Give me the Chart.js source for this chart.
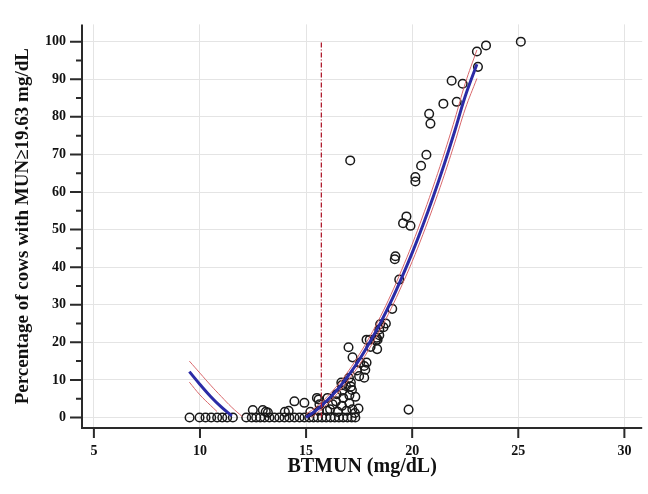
<!DOCTYPE html>
<html>
<head>
<meta charset="utf-8">
<script src="https://cdn.jsdelivr.net/npm/chart.js@4.4.0/dist/chart.umd.min.js"></script>
<style>
  html, body { margin: 0; padding: 0; background: #fff; }
  #wrap { width: 648px; height: 494px; }
</style>
</head>
<body>
<div id="wrap"><canvas id="grafica"></canvas></div>
<script>
// Datos observados (BTMUN, porcentaje de vacas)
const btmun = [
  9.51, 9.98, 10.26, 10.53, 10.81, 11.05, 11.28, 11.55,
  12.18, 12.44, 12.65, 12.84, 13.04, 13.27, 13.51, 13.74, 13.98, 14.21, 14.45, 14.69, 14.92,
  15.15, 15.35, 15.55, 15.75, 15.95, 16.15, 16.35, 16.55, 16.75, 16.95, 17.15, 17.32,
  12.49, 12.96, 13.1, 13.2, 14.0, 14.18, 15.2, 15.6, 16.0, 16.5, 16.9, 17.3,
  14.45, 14.92, 15.51, 15.63, 16.01, 16.25, 16.13, 16.41, 16.44, 16.69, 16.75, 17.04, 17.04, 17.18, 17.32, 17.47, 15.59,
  16.7, 16.88, 17.16, 16.66, 17.11, 17.02, 17.5, 17.74, 17.4, 17.79, 17.74, 17.55, 17.85, 16.69, 17.11,
  17.19, 17.0, 18.04, 18.35, 17.85, 18.37, 18.29, 18.45, 18.45, 18.65, 18.76, 18.49, 18.0, 18.32,
  19.06, 19.39, 19.18, 19.21, 19.57, 19.73, 19.92, 20.15, 20.15, 20.42, 20.67, 17.08,
  20.8, 20.86, 21.47, 22.1, 21.86, 22.38, 23.05, 23.1, 23.48, 25.12, 19.83
];
const porcentaje = [
  0, 0, 0, 0, 0, 0, 0, 0,
  0, 0, 0, 0, 0, 0, 0, 0, 0, 0, 0, 0, 0,
  0, 0, 0, 0, 0, 0, 0, 0, 0, 0, 0, 0,
  2, 2, 1.5, 1.3, 1.5, 1.8, 1.5, 1.8, 1.8, 1.5, 1.8, 1.2,
  4.3, 3.9, 5.2, 3.5, 5.2, 3.5, 2.2, 4.3, 6.2, 3.1, 5.2, 3.8, 5.9, 2.2, 5.5, 2.4, 4.8,
  7.1, 8.4, 7.3, 9.3, 9.3, 10.5, 11, 10.6, 12.5, 12.7, 13.7, 14.6, 14.6, 8.6, 8.2,
  16, 18.7, 18.8, 18.2, 20.7, 20.7, 20.5, 21.9, 23.4, 24, 25, 24.8, 20.7, 21.2,
  28.9, 36.7, 42.1, 42.9, 51.7, 53.5, 51, 62.8, 64, 67, 69.9, 68.4,
  80.8, 78.2, 83.5, 84, 89.6, 88.8, 97.4, 93.3, 99, 100, 2.1
];

// Curva ajustada (tramo izquierdo) y su intervalo
const izqX = [9.5, 10, 10.5, 11, 11.5];
const izqY = [12.2, 8.8, 5.6, 2.8, 0.4];
const izqSupX = [9.5, 10, 10.5, 11, 11.5, 12];
const izqSupY = [15, 11.8, 8.6, 5.6, 2.7, 0.2];
const izqInfX = [9.5, 10, 10.5, 10.8];
const izqInfY = [9.4, 6.0, 3.2, 1.6];

// Curva ajustada (tramo derecho) y su intervalo
const derX = [15.0, 15.5, 16, 16.5, 17, 17.5, 18, 18.5, 19, 19.5, 20, 20.5, 21, 21.5, 22, 22.5, 23.05];
const derY = [0, 2.0, 4.6, 7.6, 11.2, 15.3, 20.0, 25.1, 30.8, 37.1, 43.8, 51.1, 58.9, 67.2, 76.1, 85.5, 94];
const derSupY = [0.9, 2.9, 5.6, 8.7, 12.4, 16.7, 21.5, 26.8, 32.7, 39.2, 46.1, 53.6, 61.6, 70.1, 79.2, 88.9, 97.8];
const derInfX = [15.25, 15.5, 16, 16.5, 17, 17.5, 18, 18.5, 19, 19.5, 20, 20.5, 21, 21.5, 22, 22.5, 23.05];
const derInfY = [0, 1.1, 3.6, 6.5, 10.0, 13.9, 18.5, 23.4, 28.9, 35.0, 41.5, 48.6, 56.2, 64.3, 73.0, 82.1, 90.2];

// Linea de corte
const corteX = 15.72;
const corteY = [0, 100];

const ticksX = [5, 10, 15, 20, 25, 30];
const ticksY = [0, 10, 20, 30, 40, 50, 60, 70, 80, 90, 100];
const ticksMenoresY = [5, 15, 25, 35, 45, 55, 65, 75, 85, 95];

function puntos (xs, ys) {
  return xs.map((x, i) => ({ x: x, y: ys[i] }));
}

function linea (data, color, ancho, extra) {
  return Object.assign({
    type: 'line',
    data: data,
    borderColor: color,
    borderWidth: ancho,
    pointRadius: 0,
    fill: false,
    tension: 0.4
  }, extra || {});
}

const fuente = "'Liberation Serif', 'Times New Roman', serif";
const rojoIC = '#d8676b';

// Ejes y marcas dibujados a mano
const ejes = {
  id: 'ejes',
  afterDraw (chart) {
    const ctx = chart.ctx;
    const area = chart.chartArea;
    const sx = chart.scales.x;
    const sy = chart.scales.y;
    ctx.save();
    ctx.strokeStyle = '#2a2a2a';
    ctx.lineWidth = 2;
    ctx.beginPath();
    ctx.moveTo(area.left, area.top);
    ctx.lineTo(area.left, area.bottom);
    ctx.lineTo(area.right, area.bottom);
    ctx.stroke();
    ctx.beginPath();
    ticksY.forEach(function (v) {
      const py = sy.getPixelForValue(v);
      ctx.moveTo(area.left - 12, py);
      ctx.lineTo(area.left, py);
    });
    ticksMenoresY.forEach(function (v) {
      const py = sy.getPixelForValue(v);
      ctx.moveTo(area.left - 6, py);
      ctx.lineTo(area.left, py);
    });
    ticksX.forEach(function (v) {
      const px = sx.getPixelForValue(v);
      ctx.moveTo(px, area.bottom);
      ctx.lineTo(px, area.bottom + 10);
    });
    ctx.stroke();
    ctx.restore();
  }
};

new Chart(document.getElementById('grafica'), {
  type: 'scatter',
  data: {
    datasets: [
      linea([{ x: corteX, y: corteY[0] }, { x: corteX, y: corteY[1] }], '#b01c2e', 1.3, { borderDash: [5, 2, 1, 2], tension: 0 }),
      linea(puntos(izqX, izqY), '#2b2ba6', 3),
      linea(puntos(derX, derY), '#2b2ba6', 3),
      linea(puntos(izqSupX, izqSupY), rojoIC, 1),
      linea(puntos(izqInfX, izqInfY), rojoIC, 1),
      linea(puntos(derX, derSupY), rojoIC, 1),
      linea(puntos(derInfX, derInfY), rojoIC, 1),
      {
        type: 'scatter',
        data: puntos(btmun, porcentaje),
        pointRadius: 4.3,
        pointBorderWidth: 1.5,
        pointBorderColor: '#1a1a1a',
        pointBackgroundColor: 'rgba(0,0,0,0)'
      }
    ]
  },
  options: {
    responsive: true,
    maintainAspectRatio: false,
    animation: false,
    layout: { padding: { top: 8, right: 5, left: 0, bottom: 0 } },
    plugins: {
      legend: { display: false },
      tooltip: { enabled: false }
    },
    scales: {
      x: {
        type: 'linear',
        min: 4.44,
        max: 30.84,
        border: { display: false },
        grid: { color: '#e4e4e4', drawTicks: false },
        afterBuildTicks: function (scale) {
          scale.ticks = ticksX.map(v => ({ value: v }));
        },
        afterFit: function (scale) { scale.height = 66; },
        ticks: {
          padding: 15,
          color: '#111',
          font: { family: fuente, size: 14, weight: 'bold' }
        },
        title: {
          display: true,
          text: 'BTMUN (mg/dL)',
          color: '#111',
          padding: { top: 0, bottom: 15 },
          font: { family: fuente, size: 20, weight: 'bold' }
        }
      },
      y: {
        type: 'linear',
        min: -2.8,
        max: 104.6,
        border: { display: false },
        grid: { color: '#e4e4e4', drawTicks: false },
        afterBuildTicks: function (scale) {
          scale.ticks = ticksY.map(v => ({ value: v }));
        },
        afterFit: function (scale) { scale.width = 82; },
        ticks: {
          padding: 16,
          color: '#111',
          font: { family: fuente, size: 14, weight: 'bold' }
        },
        title: {
          display: true,
          text: 'Percentage of cows with MUN≥19.63 mg/dL',
          color: '#111',
          padding: { top: 12, bottom: 0 },
          font: { family: fuente, size: 19, weight: 'bold' }
        }
      }
    }
  },
  plugins: [ejes]
});
</script>
</body>
</html>
